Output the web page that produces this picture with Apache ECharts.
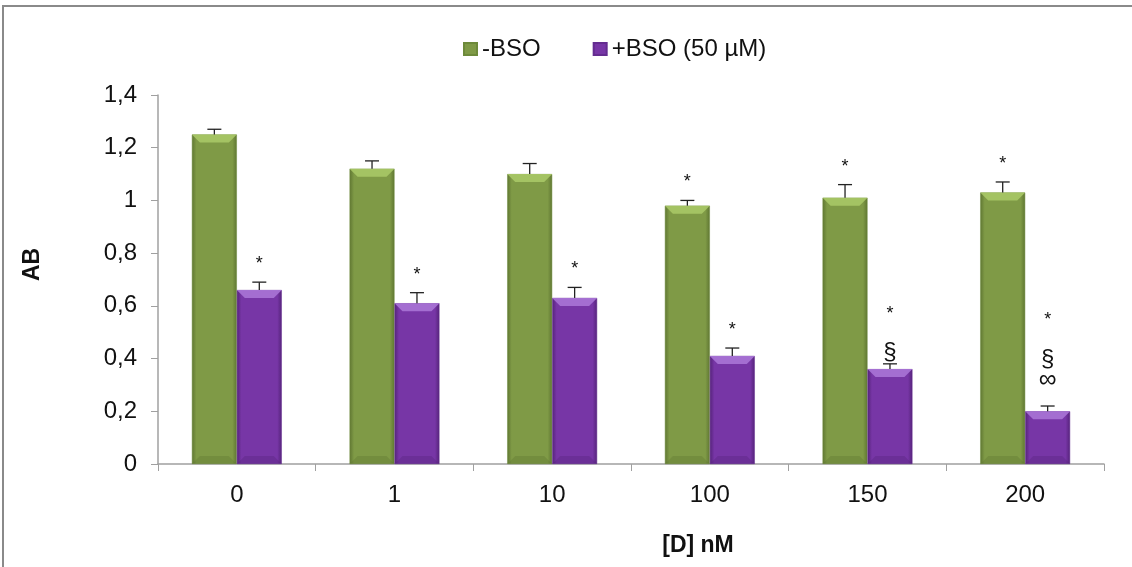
<!DOCTYPE html>
<html>
<head>
<meta charset="utf-8">
<script src="https://cdn.jsdelivr.net/npm/echarts@6/dist/echarts.min.js"></script>
<style>
  html, body { margin: 0; padding: 0; background: #fff; }
  #chart { width: 1132px; height: 567px; }
</style>
</head>
<body>
<div id="chart"></div>
<script>
// Alamar Blue readout vs. drug concentration, with and without BSO
const categories = ['0', '1', '10', '100', '150', '200'];
const minusBSO = [1.25, 1.12, 1.10, 0.98, 1.01, 1.03];
const minusBSOErr = [0.02, 0.03, 0.04, 0.02, 0.05, 0.04];
const plusBSO = [0.66, 0.61, 0.63, 0.41, 0.36, 0.20];
const plusBSOErr = [0.03, 0.04, 0.04, 0.03, 0.02, 0.02];
// significance marks stacked above each bar, bottom to top
const minusMarks = [[], [], [], ['*'], ['*'], ['*']];
const plusMarks = [['*'], ['*'], ['*'], ['*'], ['§', '*'], ['∞', '§', '*']];
const yTicks = ['0', '0,2', '0,4', '0,6', '0,8', '1', '1,2', '1,4'];

const BAR_FRAC = 0.285;
const FONT = 'Liberation Sans, Arial, sans-serif';

function bevelFill(dark, mid) {
  return {
    type: 'linear', x: 0, y: 0, x2: 1, y2: 0,
    colorStops: [
      { offset: 0, color: dark },
      { offset: 0.1, color: mid },
      { offset: 0.9, color: mid },
      { offset: 1, color: dark }
    ]
  };
}

const GREEN = { dark: '#5f7632', mid: '#7f9a46', light: '#a9c866' };
const PURPLE = { dark: '#55237a', mid: '#7736a6', light: '#a874d6' };

function sideOffset(api, side) {
  const band = api.size([1, 0])[0];
  return side * band * BAR_FRAC / 2;
}

// bevel highlight on top edge and shade on bottom edge of each bar
function bevelSeries(values, side, pal) {
  return {
    type: 'custom', silent: true, z: 3,
    data: values.map((v, i) => [i, v]),
    renderItem: function (params, api) {
      const i = api.value(0), v = api.value(1);
      const base = api.coord([i, 0]);
      const top = api.coord([i, v]);
      const band = api.size([1, 0])[0];
      const w = band * BAR_FRAC;
      const cx = base[0] + sideOffset(api, side);
      const l = cx - w / 2, r = cx + w / 2;
      const b = 8;
      return {
        type: 'group',
        children: [
          { type: 'polygon', shape: { points: [[l, top[1]], [r, top[1]], [r - b, top[1] + b], [l + b, top[1] + b]] },
            style: { fill: pal.light, opacity: 0.9 } },
          { type: 'polygon', shape: { points: [[l, base[1]], [r, base[1]], [r - b, base[1] - b], [l + b, base[1] - b]] },
            style: { fill: pal.dark, opacity: 0.35 } }
        ]
      };
    }
  };
}

function errorSeries(values, errs, side) {
  return {
    type: 'custom', silent: true, z: 4,
    data: values.map((v, i) => [i, v, v + errs[i]]),
    renderItem: function (params, api) {
      const i = api.value(0);
      const p0 = api.coord([i, api.value(1)]);
      const p1 = api.coord([i, api.value(2)]);
      const x = p0[0] + sideOffset(api, side);
      const cap = 7;
      const st = { stroke: '#222', lineWidth: 1.3 };
      return {
        type: 'group',
        children: [
          { type: 'line', shape: { x1: x, y1: p0[1], x2: x, y2: p1[1] }, style: st },
          { type: 'line', shape: { x1: x - cap, y1: p1[1], x2: x + cap, y2: p1[1] }, style: st }
        ]
      };
    }
  };
}

// vertical spacing (px) from the previous mark (or the error cap) to the next mark
const MARK_STEP = {
  'start*': 21, 'start§': 14, 'start∞': 27,
  '∞§': 23, '§*': 39, '**': 22
};
const MARK_STYLE = {
  '*': { size: 18, nudge: 3 },
  '§': { size: 24, nudge: 3 },
  '∞': { size: 25, nudge: 1 }
};

function markSeries(values, errs, marks, side) {
  return {
    type: 'custom', silent: true, z: 5,
    data: values.map((v, i) => [i, v + errs[i]]),
    renderItem: function (params, api) {
      const i = api.value(0);
      const p = api.coord([i, api.value(1)]);
      const x = p[0] + sideOffset(api, side);
      const children = [];
      let y = p[1];
      let prev = 'start';
      marks[i].forEach(function (m) {
        y -= MARK_STEP[prev + m];
        const s = MARK_STYLE[m];
        children.push({
          type: 'text', x: x, y: y + s.nudge,
          style: { text: m, font: s.size + 'px ' + FONT, fill: '#111', align: 'center', verticalAlign: 'middle' }
        });
        prev = m;
      });
      return { type: 'group', children: children };
    }
  };
}

const chart = echarts.init(document.getElementById('chart'), null, { renderer: 'canvas' });
chart.setOption({
  animation: false,
  backgroundColor: '#fff',
  textStyle: { fontFamily: FONT },
  graphic: [{
    type: 'rect', shape: { x: 3, y: 6, width: 1140, height: 580 },
    style: { fill: 'none', stroke: '#8a8a8a', lineWidth: 2 }, silent: true
  }],
  legend: {
    top: 32, left: 458, itemGap: 52, itemWidth: 13, itemHeight: 12,
    icon: 'rect',
    textStyle: { fontSize: 24, color: '#111', fontFamily: FONT },
    data: ['-BSO', '+BSO (50 µM)']
  },
  grid: { left: 158, right: 28, top: 95, bottom: 103 },
  xAxis: {
    type: 'category', data: categories,
    name: '[D] nM', nameLocation: 'middle', nameGap: 70,
    nameTextStyle: { fontSize: 23, fontWeight: 'bold', color: '#111', fontFamily: FONT, padding: [0, 0, 0, 134] },
    axisLine: { lineStyle: { color: '#a0a0a0', width: 1.5 } },
    axisTick: { show: true, length: 7, lineStyle: { color: '#a0a0a0' } },
    axisLabel: { fontSize: 24, color: '#111', margin: 19, fontFamily: FONT }
  },
  yAxis: {
    type: 'value', min: 0, max: 1.4, interval: 0.2,
    name: 'AB', nameLocation: 'middle', nameGap: 114, nameRotate: 90,
    nameTextStyle: { fontSize: 23, fontWeight: 'bold', color: '#111', fontFamily: FONT, padding: [0, 0, 0, 30] },
    axisLine: { show: true, lineStyle: { color: '#a0a0a0', width: 1.5 } },
    axisTick: { show: true, length: 7, lineStyle: { color: '#a0a0a0' } },
    splitLine: { show: false },
    axisLabel: {
      fontSize: 24, color: '#111', margin: 21, fontFamily: FONT,
      formatter: function (v) { return yTicks[Math.round(v / 0.2)]; }
    }
  },
  series: [
    {
      name: '-BSO', type: 'bar', data: minusBSO, barWidth: (BAR_FRAC * 100) + '%', barGap: '0%',
      itemStyle: { color: bevelFill(GREEN.dark, GREEN.mid), borderColor: '#6d8a3a', borderWidth: 0.5 },
      z: 2
    },
    {
      name: '+BSO (50 µM)', type: 'bar', data: plusBSO, barWidth: (BAR_FRAC * 100) + '%', barGap: '0%',
      itemStyle: { color: bevelFill(PURPLE.dark, PURPLE.mid), borderColor: '#642c90', borderWidth: 0.5 },
      z: 2
    },
    bevelSeries(minusBSO, -1, GREEN),
    bevelSeries(plusBSO, 1, PURPLE),
    errorSeries(minusBSO, minusBSOErr, -1),
    errorSeries(plusBSO, plusBSOErr, 1),
    markSeries(minusBSO, minusBSOErr, minusMarks, -1),
    markSeries(plusBSO, plusBSOErr, plusMarks, 1)
  ]
});
</script>
</body>
</html>
